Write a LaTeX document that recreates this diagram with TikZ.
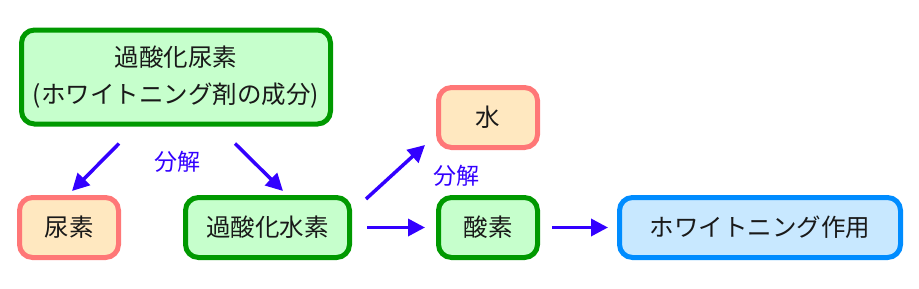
\documentclass[tikz,border=0pt]{standalone}
\usepackage{fontspec}
\newfontfamily\jp{Noto Sans CJK JP}
\usetikzlibrary{arrows.meta,calc}
\definecolor{gborder}{HTML}{009900}
\definecolor{gfill}{HTML}{C6FFCC}
\definecolor{pborder}{HTML}{FF7777}
\definecolor{pfill}{HTML}{FFE8C0}
\definecolor{bborder}{HTML}{008CFF}
\definecolor{bfill}{HTML}{C8E8FF}
\definecolor{arrblue}{HTML}{3300FF}
\tikzset{
  x=1pt, y=-1pt,
  box/.style={draw, rounded corners=13pt, line width=5pt, align=center,
    font=\jp\fontsize{24.5}{37}\selectfont, text=black!90, inner sep=0pt,
    minimum height=60pt},
  greenbox/.style={box, draw=gborder, fill=gfill},
  pinkbox/.style={box, draw=pborder, fill=pfill},
  bluebox/.style={box, draw=bborder, fill=bfill},
  arr/.style={draw=arrblue, line width=3.5pt, -{Triangle[length=17pt,width=17pt]}},
  lbl/.style={text=arrblue, font=\jp\fontsize{23}{26}\selectfont, inner sep=0pt}
}
\begin{document}
\begin{tikzpicture}
\useasboundingbox (0,0) rectangle (919,289);
\node[greenbox, minimum width=309pt, minimum height=94pt] (top) at (176,77) {過酸化尿素\\(ホワイトニング剤の成分)};
\node[pinkbox, minimum width=99pt] (urea) at (69,227.5) {尿素};
\node[greenbox, minimum width=164pt] (h2o2) at (267.5,227.5) {過酸化水素};
\node[pinkbox, minimum width=99pt] (water) at (488,117.5) {水};
\node[greenbox, minimum width=99pt] (oxy) at (488,227.5) {酸素};
\node[bluebox, minimum width=281pt] (white) at (760,227.5) {ホワイトニング作用};
\node[lbl] (lbl1) at (177,162) {分解};
\node[lbl] (lbl2) at (456,176) {分解};
\draw[arr] ($(top.south)+(-57,17)$) -- ($(urea.north)+(3,-4)$);
\draw[arr] ($(top.south)+(59,17)$) -- ($(h2o2.north)+(15.5,-4)$);
\draw[arr] ($(h2o2.east)+(14,-28.5)$) -- ($(water.south west)+(-11,-5)$);
\draw[arr, shorten <=15pt, shorten >=11pt] (h2o2.east) -- (oxy.west);
\draw[arr, shorten <=12pt, shorten >=9pt] (oxy.east) -- (white.west);
\end{tikzpicture}
\end{document}
